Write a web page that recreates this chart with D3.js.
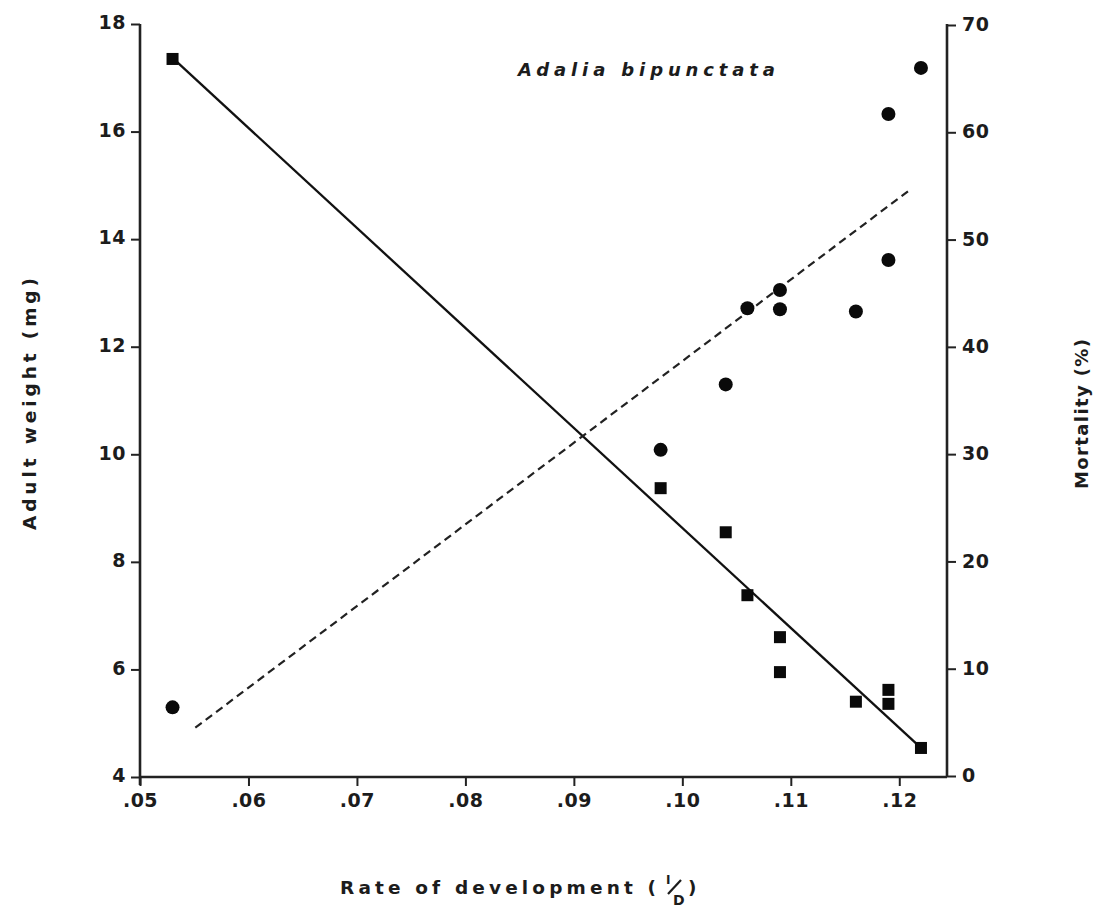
<!DOCTYPE html>
<html><head><meta charset="utf-8">
<script src="https://cdn.jsdelivr.net/npm/d3@7"></script>
<style>
html,body{margin:0;padding:0;background:#fff;}
svg text{font-family:"DejaVu Sans","Liberation Sans",Arial,sans-serif;fill:#1c1c1c;}
</style></head>
<body><svg id="chart" width="1093" height="909"></svg>
<script>
// ---- data ----
const weightRate = [0.053, 0.098, 0.104, 0.106, 0.109, 0.109, 0.116, 0.119, 0.119, 0.122];
const adultWeight = [17.35, 9.37, 8.55, 7.38, 6.60, 5.95, 5.40, 5.62, 5.36, 4.54];
const mortRate = [0.053, 0.098, 0.104, 0.106, 0.109, 0.109, 0.116, 0.119, 0.119, 0.122];
const mortality = [6.4, 30.4, 36.5, 43.6, 45.3, 43.5, 43.3, 48.1, 61.7, 66.0];
const weightFitX = [0.0531, 0.1220];
const weightFitY = [17.35, 4.54];
const mortFitX = [0.0551, 0.1208];
const mortFitY = [4.5, 54.5];
const xTicks = [0.05, 0.06, 0.07, 0.08, 0.09, 0.10, 0.11, 0.12];
const yLeftTicks = [4, 6, 8, 10, 12, 14, 16, 18];
const yRightTicks = [0, 10, 20, 30, 40, 50, 60, 70];
const titleText = "Adalia bipunctata";
const xLabel = "Rate of development (";
const xLabelNum = "I";
const xLabelDen = "D";
const yLeftLabel = "Adult weight (mg)";
const yRightLabel = "Mortality (%)";

// ---- layout ----
const L = 140, R = 947, T = 24, B = 777;
const FONT = "DejaVu Sans, Liberation Sans, Arial, sans-serif";
const svg = d3.select("#chart");
const x = d3.scaleLinear().domain([0.05, 0.1244]).range([L, R]);
const yL = d3.scaleLinear().domain([4, 18]).range([B, T]);
const yR = d3.scaleLinear().domain([0, 70]).range([B - 1, 25]);

const fmtX = d => d3.format(".2f")(d).replace(/^0/, "");

// axes
const ax = svg.append("g").attr("class", "axes");
const xAxis = ax.append("g").attr("transform", `translate(0,${B})`)
  .call(d3.axisBottom(x).tickValues(xTicks).tickFormat(fmtX).tickSizeOuter(0).tickSize(9).tickPadding(8));
const lAxis = ax.append("g").attr("transform", `translate(${L},0)`)
  .call(d3.axisLeft(yL).tickValues(yLeftTicks).tickSizeOuter(0).tickSize(9).tickPadding(5));
const rAxis = ax.append("g").attr("transform", `translate(${R},0)`)
  .call(d3.axisRight(yR).tickValues(yRightTicks).tickSizeOuter(0).tickSize(9).tickPadding(6));
[xAxis, lAxis, rAxis].forEach(g => {
  g.select(".domain").attr("stroke", "#222").attr("stroke-width", 2.6);
  g.selectAll(".tick line").attr("stroke", "#222").attr("stroke-width", 2);
  g.selectAll(".tick text").attr("font-size", 19).attr("font-weight", "bold")
    .attr("fill", "#1c1c1c").style("letter-spacing", "0.5px").attr("font-family", FONT);
});
xAxis.select(".domain").attr("d", `M${L},0H${R}`);
lAxis.select(".domain").attr("d", `M0,${T}V${B + 8}`);
rAxis.select(".domain").attr("d", `M0,${T}V${B}`);
lAxis.selectAll(".tick text").attr("dy", "0.25em");
rAxis.selectAll(".tick text").attr("dy", "0.3em");

// fit lines
const line = d3.line();
svg.append("path")
  .attr("d", line(weightFitX.map((d, i) => [x(d), yL(weightFitY[i])])))
  .attr("stroke", "#111").attr("stroke-width", 2.3).attr("fill", "none");
svg.append("path")
  .attr("d", line(mortFitX.map((d, i) => [x(d), yR(mortFitY[i])])))
  .attr("stroke", "#222").attr("stroke-width", 2.2).attr("fill", "none")
  .attr("stroke-dasharray", "8,5");

// points
const sq = 12;
svg.append("g").selectAll("rect").data(weightRate).join("rect")
  .attr("x", (d) => x(d) - sq / 2)
  .attr("y", (d, i) => yL(adultWeight[i]) - sq / 2)
  .attr("width", sq).attr("height", sq).attr("fill", "#0a0a0a");
svg.append("g").selectAll("circle").data(mortRate).join("circle")
  .attr("cx", d => x(d))
  .attr("cy", (d, i) => yR(mortality[i]))
  .attr("r", 7).attr("fill", "#0a0a0a");

// title
svg.append("text").attr("x", 518).attr("y", 76)
  .attr("font-size", 18).attr("font-weight", "bold").attr("font-style", "italic")
  .attr("textLength", 257).attr("lengthAdjust", "spacing")
  .text(titleText);

// x label
svg.append("text").attr("x", 340).attr("y", 894)
  .attr("font-size", 18.5).attr("font-weight", "bold")
  .attr("textLength", 316).attr("lengthAdjust", "spacing")
  .text(xLabel);
svg.append("text").attr("x", 666).attr("y", 884)
  .attr("font-size", 12).attr("font-weight", "bold").text(xLabelNum);
svg.append("line").attr("x1", 668).attr("y1", 894).attr("x2", 681).attr("y2", 880)
  .attr("stroke", "#1c1c1c").attr("stroke-width", 2.2);
svg.append("text").attr("x", 673).attr("y", 905)
  .attr("font-size", 14).attr("font-weight", "bold").text(xLabelDen);
svg.append("text").attr("x", 688).attr("y", 894)
  .attr("font-size", 18.5).attr("font-weight", "bold").text(")");

// y labels
svg.append("text").attr("transform", "translate(36,530) rotate(-90)")
  .attr("font-size", 18.5).attr("font-weight", "bold")
  .attr("textLength", 252).attr("lengthAdjust", "spacing")
  .text(yLeftLabel);
svg.append("text").attr("transform", "translate(1088,489) rotate(-90)")
  .attr("font-size", 18).attr("font-weight", "bold")
  .attr("textLength", 150).attr("lengthAdjust", "spacing")
  .text(yRightLabel);
</script></body></html>
